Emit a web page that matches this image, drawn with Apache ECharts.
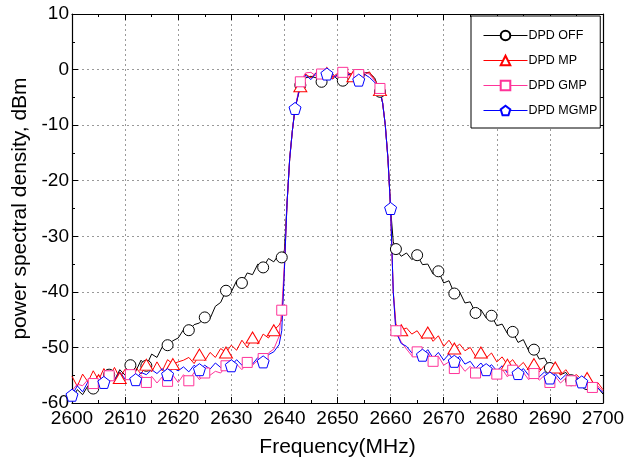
<!DOCTYPE html>
<html><head><meta charset="utf-8">
<script src="https://cdn.jsdelivr.net/npm/echarts@6/dist/echarts.min.js"></script>
<style>html,body{margin:0;padding:0;background:#fff}#c{width:631px;height:466px}</style>
</head><body><div id="c"></div>
<script>
const freq = [2600,2601,2602,2603,2604,2605,2606,2607,2608,2609,2610,2611,2612,2613,2614,2615,2616,2617,2618,2619,2620,2621,2622,2623,2624,2625,2626,2627,2628,2629,2630,2631,2632,2633,2634,2635,2636,2637,2638,2639,
2639.5,2640,2640.5,2641,2641.5,2642,
2643,2644,2645,2646,2647,2648,2649,2650,2651,2652,2653,2654,2655,2656,2657,
2658,2658.5,2659,2659.5,2660,2660.5,
2661,2662,2663,2664,2665,2666,2667,2668,2669,2670,2671,2672,2673,2674,2675,2676,2677,2678,2679,2680,2681,2682,2683,2684,2685,2686,2687,2688,2689,2690,2691,2692,2693,2694,2695,2696,2697,2698,2699,2700];

const dpdOff = [-59.2,-57.6,-58.5,-56.9,-57.4,-55.7,-56.8,-54.9,-55.9,-54.0,-55.0,-53.2,-54.3,-52.3,-53.3,-51.2,-51.8,-49.9,-49.6,-48.8,-48.3,-46.8,-46.9,-45.9,-45.6,-44.6,-44.8,-42.6,-41.9,-39.8,-40.0,-38.0,-38.4,-36.6,-36.9,-35.0,-35.6,-34.0,-34.6,-33.2,
-33.8,-32.5,-24,-16,-11,-7,
-2.8,-1.5,-1.2,-1.5,-2.2,-1.0,-0.7,-1.8,-2.0,-0.9,-0.6,-1.0,-0.5,-0.6,-1.5,
-4,-6,-10,-16,-25,-31,
-32.3,-33.6,-33.0,-34.2,-33.4,-35.1,-35.0,-36.8,-36.3,-38.4,-38.0,-40.3,-40.0,-42.0,-41.8,-43.8,-43.2,-44.7,-44.3,-46.1,-45.8,-47.5,-47.2,-49.1,-48.6,-50.6,-50.4,-52.1,-51.9,-53.7,-53.3,-54.9,-54.5,-55.9,-55.4,-56.9,-56.6,-57.6,-57.2,-58.4];

const dpdMP = [-55.2,-57.0,-54.8,-56.2,-54.2,-55.9,-53.8,-55.4,-53.6,-55.5,-53.9,-54.2,-53.6,-54.8,-53.1,-54.4,-52.6,-54.2,-52.2,-53.0,-52.6,-52.3,-51.8,-52.9,-51.3,-52.4,-50.9,-51.8,-50.2,-50.9,-49.6,-50.5,-48.7,-50.0,-48.2,-49.4,-47.6,-48.3,-46.9,-46.0,
-45.0,-36,-24,-16,-11,-7,
-3.0,-0.8,-1.5,-0.5,-1.0,-0.6,-1.4,-0.7,-1.6,-0.5,-1.2,-0.6,-1.0,-0.4,-1.8,
-3.7,-6,-10,-16,-25,-40,
-45.8,-46.9,-46.5,-47.6,-47.0,-48.4,-47.3,-48.9,-47.9,-49.8,-48.7,-50.2,-49.4,-50.6,-50.0,-51.6,-50.9,-51.9,-51.0,-52.6,-51.7,-53.1,-52.2,-53.6,-52.7,-54.1,-53.0,-54.4,-53.3,-54.6,-53.6,-55.0,-54.0,-55.4,-54.9,-55.8,-55.5,-56.6,-56.3,-57.6];

const dpdGMP = [-57.8,-56.6,-56.9,-55.8,-56.5,-55.2,-56.4,-55.1,-55.6,-55.3,-56.0,-54.9,-55.9,-55.0,-56.3,-55.2,-56.4,-55.3,-56.1,-55.0,-56.3,-54.9,-56.0,-54.5,-55.8,-54.6,-55.0,-54.3,-54.6,-53.3,-54.4,-53.0,-54.0,-52.7,-53.2,-52.3,-52.0,-51.0,-50.3,-48.0,
-43.3,-35,-24,-16,-11,-7,
-2.2,-0.6,-0.5,-1.2,-0.8,-0.5,-1.0,-1.3,-0.5,-1.1,-0.6,-0.9,-0.5,-0.8,-2.0,
-3.4,-6,-10,-16,-25,-40,
-47.0,-49.0,-50.3,-51.5,-50.8,-51.9,-50.9,-52.5,-51.6,-53.2,-52.6,-53.8,-53.0,-54.3,-53.4,-54.6,-53.8,-54.9,-53.7,-54.8,-53.9,-55.3,-54.1,-55.0,-54.5,-55.8,-54.7,-55.9,-55.0,-56.3,-55.2,-56.4,-55.5,-56.0,-56.1,-57.0,-56.6,-57.2,-56.9,-57.9];

const dpdMGMP = [-58.6,-56.9,-58.0,-56.2,-56.6,-55.0,-56.3,-54.8,-55.9,-54.4,-55.7,-54.3,-55.8,-54.5,-54.9,-54.0,-54.7,-53.8,-54.9,-53.7,-54.2,-53.5,-54.4,-53.2,-54.0,-53.2,-53.9,-52.8,-53.6,-52.8,-53.3,-52.2,-53.2,-52.0,-53.0,-51.8,-52.6,-51.3,-50.8,-49.5,
-47,-36,-24,-16,-11,-7,
-3.0,-1.0,-1.8,-0.6,-1.2,-0.8,-1.7,-0.9,-1.4,-0.7,-1.5,-1.9,-0.8,-1.4,-2.3,
-4,-6,-10,-16,-25,-40,
-47.2,-49.3,-49.8,-51.0,-50.0,-51.4,-50.4,-51.9,-50.9,-52.3,-51.2,-52.5,-51.6,-53.0,-52.5,-53.8,-52.8,-54.0,-53.1,-54.2,-53.3,-54.6,-53.6,-54.7,-53.8,-55.0,-54.1,-55.3,-54.4,-55.5,-54.7,-55.8,-54.9,-56.0,-55.3,-56.2,-56.2,-57.3,-57.3,-58.1];

const offMarks = [2604,2607,2611,2614,2618,2622,2625,2629,2632,2636,2639.5,2643,2647,2651,2654,2658,2661,2665,2669,2672,2676,2679,2683,2687,2690,2694,2697];
const mpMarks = [2605,2609,2614,2619,2624,2629,2634,2638,2643,2648,2653,2658,2662,2667,2672,2677,2682,2687,2691,2697];
const gmpMarks = [2604,2607,2611,2614,2618,2622,2625,2629,2633,2636,2639.5,2643,2647,2651,2654,2658,2661,2665,2668,2672,2676,2680,2683,2687,2690,2694,2698];
const mgmpMarks = [2600,2606,2612,2618,2624,2630,2636,2642,2648,2654,2660,2666,2672,2678,2684,2690,2696];

const xTicks = {min:2600, max:2700, interval:10};
const yTicks = {min:-60, max:10, interval:10};

function build(vals, marks){
  return freq.map((f,i)=> marks.indexOf(f) >= 0 ? {value:[f, vals[i]]} : {value:[f, vals[i]], symbol:'none'});
}
const PENT = 'path://M0,-10 L9.51,-3.09 L5.88,8.09 L-5.88,8.09 L-9.51,-3.09 Z';
const TRI = 'path://M0,-10 L10,8 L-10,8 Z';
function ser(name, vals, marks, color, symbol, size){
  return {name, type:'line', data: build(vals, marks), symbol, symbolSize:size, showSymbol:true, showAllSymbol:true,
    lineStyle:{color, width:1}, itemStyle:{color:'#fff', borderColor:color, borderWidth:1},
    emphasis:{disabled:true}, animation:false};
}
const axisCommon = {
  axisLine:{show:true, onZero:false, lineStyle:{color:'#000', width:1.2}},
  axisTick:{show:true, inside:true, length:6, lineStyle:{color:'#000'}},
  minorTick:{show:true, splitNumber:2, length:3, lineStyle:{color:'#000'}},
};
const FONT = 'Liberation Sans, Arial';
const chart = echarts.init(document.getElementById('c'), null, {renderer:'canvas'});
chart.setOption({
  backgroundColor:'#fff',
  animation:false,
  grid:{left:72, right:28, top:14, bottom:63, containLabel:false},
  legend:{
    orient:'vertical', left:471, top:16, itemWidth:44, itemHeight:12, itemGap:12,
    padding:[13,3,11,12], borderColor:'#000', borderWidth:1, backgroundColor:'#fff',
    lineStyle:{width:1},
    textStyle:{fontFamily:FONT, fontSize:12.5, color:'#000', padding:[0,0,0,-4]},
    data:['DPD OFF','DPD MP','DPD GMP','DPD MGMP']
  },
  xAxis:[
    Object.assign({type:'value', position:'bottom', min:xTicks.min, max:xTicks.max, interval:xTicks.interval,
      name:'Frequency(MHz)', nameLocation:'middle', nameGap:34,
      nameTextStyle:{fontFamily:FONT, fontSize:21, color:'#000'},
      axisLabel:{fontFamily:FONT, fontSize:19, color:'#000', margin:6, formatter:(v)=>String(v)},
      splitLine:{show:true, lineStyle:{color:'#999', type:[2,3], width:1}}}, axisCommon),
    Object.assign({type:'value', position:'top', min:xTicks.min, max:xTicks.max, interval:xTicks.interval,
      axisLabel:{show:false}, splitLine:{show:false}}, axisCommon)
  ],
  yAxis:[
    Object.assign({type:'value', position:'left', min:yTicks.min, max:yTicks.max, interval:yTicks.interval,
      name:'power spectral density, dBm', nameLocation:'middle', nameGap:39,
      nameTextStyle:{fontFamily:FONT, fontSize:21, color:'#000'},
      axisLabel:{fontFamily:FONT, fontSize:19, color:'#000', margin:3, formatter:(v)=>String(v)},
      splitLine:{show:true, lineStyle:{color:'#999', type:[2,3], width:1}}}, axisCommon),
    Object.assign({type:'value', position:'right', min:yTicks.min, max:yTicks.max, interval:yTicks.interval,
      axisLabel:{show:false}, splitLine:{show:false}}, axisCommon)
  ],
  series:[
    ser('DPD OFF', dpdOff, offMarks, '#000000', 'circle', 11),
    ser('DPD MP', dpdMP, mpMarks, '#ff0000', TRI, [13,11]),
    ser('DPD GMP', dpdGMP, gmpMarks, '#ff3399', 'rect', 10),
    ser('DPD MGMP', dpdMGMP, mgmpMarks, '#0000ff', PENT, 12)
  ]
});
</script></body></html>
